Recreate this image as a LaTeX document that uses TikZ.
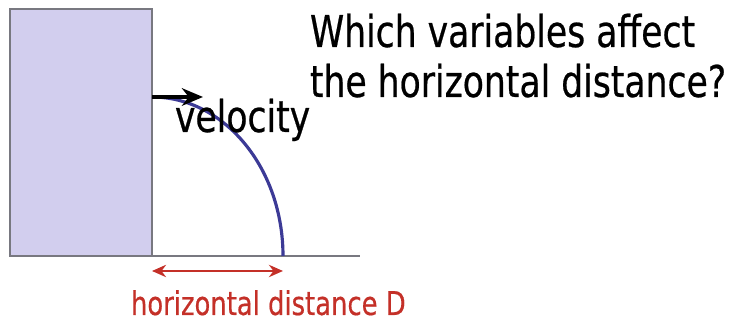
\documentclass[tikz,border=0pt]{standalone}
\usepackage{fontspec}
\setmainfont[FakeStretch=0.79,FakeBold=0.5]{DejaVu Sans}
\usepackage{tikz}
\usetikzlibrary{arrows.meta}

\definecolor{wallfill}{RGB}{210,206,238}
\definecolor{wallline}{RGB}{120,120,128}
\definecolor{pathblue}{RGB}{60,58,150}
\definecolor{distred}{RGB}{196,48,40}

\tikzset{
  txt/.style={anchor=base west,inner sep=0pt,outer sep=0pt},
  bigtxt/.style={txt,font=\fontsize{12.45}{14.2}\selectfont},
  redtxt/.style={txt,text=distred,font=\fontsize{9.3}{11}\selectfont}
}

\begin{document}
\begin{tikzpicture}[x=0.01cm,y=-0.01cm]
\useasboundingbox (0,0) rectangle (735,322);

% wall and ground
\draw [wallline,fill=wallfill,line width=0.6pt] (10,256) rectangle (152,9);
\draw [wallline,line width=0.6pt] (10,256) -- (360,256);

% launch point, landing point
\coordinate (top) at (152,97);
\coordinate (land) at (283,256);
\coordinate (vtip) at (203,97);
\coordinate (dleft) at (152,271);
\coordinate (dright) at (283,271);

% trajectory
\draw [pathblue,line width=0.9pt] (top) .. controls (224.4,97) and (283,168.2) .. (land);
\draw [line width=1.1pt,-{Stealth[length=6pt,width=5pt]}] (top) -- (vtip);
\draw [distred,line width=0.6pt,{Stealth[length=4pt,width=3.5pt]}-{Stealth[length=4pt,width=3.5pt]}] (dleft) -- (dright);

% labels
\node [bigtxt] (vel) at (175,132) {velocity};
\node [redtxt] (dist) at (131,315) {horizontal distance D};
\node [bigtxt] (q1) at (310,47) {Which variables affect};
\node [bigtxt] (q2) at (310,97) {the horizontal distance?};
\end{tikzpicture}
\end{document}
